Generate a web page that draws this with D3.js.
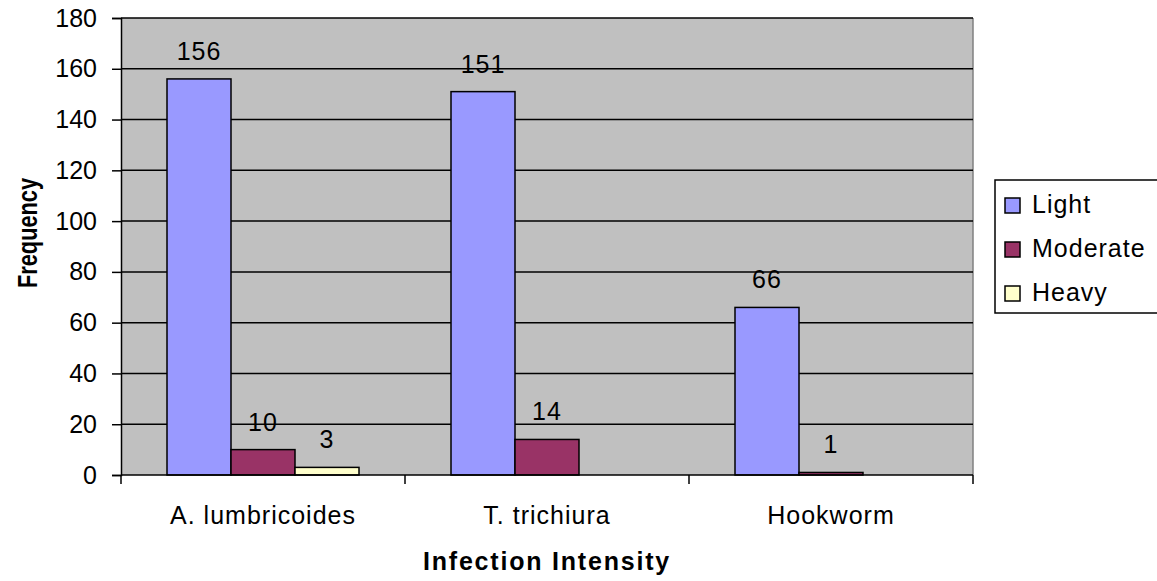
<!DOCTYPE html>
<html>
<head>
<meta charset="utf-8">
<script src="https://cdn.jsdelivr.net/npm/d3@7"></script>
<style>
  body { margin: 0; background: #fff; }
  text { font-family: "Liberation Sans", Arial, sans-serif; }
</style>
</head>
<body>
<div id="chart"></div>
<script>
// data
const categories = ["A. lumbricoides", "T. trichiura", "Hookworm"];
const series = ["Light", "Moderate", "Heavy"];
const light = [156, 151, 66];
const moderate = [10, 14, 1];
const heavy = [3, null, null];
const yTicks = [0, 20, 40, 60, 80, 100, 120, 140, 160, 180];

const colors = { Light: "#9999ff", Moderate: "#993366", Heavy: "#ffffcc" };
const values = { Light: light, Moderate: moderate, Heavy: heavy };

const W = 1157, H = 581;
const plot = { left: 121, right: 973, top: 18, bottom: 475 };
const fs = 25;

const svg = d3.select("#chart").append("svg")
    .attr("width", W)
    .attr("height", H);

const x0 = d3.scaleBand()
    .domain(categories)
    .range([plot.left, plot.right]);

// group of 3 bars sits in the middle of each band
const x1 = d3.scaleBand()
    .domain(series)
    .range([46, x0.bandwidth() - 46]);

const y = d3.scaleLinear()
    .domain([0, 180])
    .range([plot.bottom, plot.top]);

// plot background
svg.append("rect")
    .attr("x", plot.left)
    .attr("y", plot.top)
    .attr("width", plot.right - plot.left)
    .attr("height", plot.bottom - plot.top)
    .attr("fill", "#c0c0c0");

// right border
svg.append("line")
    .attr("x1", plot.right).attr("x2", plot.right)
    .attr("y1", plot.top).attr("y2", plot.bottom)
    .attr("stroke", "#808080")
    .attr("stroke-width", 1.5);

// gridlines
svg.append("g").selectAll("line")
    .data(yTicks.filter(d => d > 0))
    .enter().append("line")
      .attr("x1", plot.left).attr("x2", plot.right)
      .attr("y1", d => y(d)).attr("y2", d => y(d))
      .attr("stroke", "#000")
      .attr("stroke-width", 1.5);

// y axis
const yAxis = svg.append("g")
    .attr("transform", `translate(${plot.left},0)`)
    .call(d3.axisLeft(y).tickValues(yTicks).tickSize(9).tickPadding(15));
yAxis.select(".domain").attr("stroke", "#000").attr("stroke-width", 1.5);
yAxis.selectAll(".tick line").attr("stroke", "#000").attr("stroke-width", 1.5);
yAxis.selectAll(".tick text")
    .attr("font-size", fs)
    .attr("fill", "#000")
    .style("font-family", "Liberation Sans, Arial, sans-serif");

// bars
const groups = svg.append("g").selectAll("g")
    .data(categories)
    .enter().append("g")
      .attr("transform", d => `translate(${x0(d)},0)`);

const cells = (c, i) => series.map(s => ({ s: s, v: values[s][i] })).filter(d => d.v != null);

groups.selectAll("rect")
    .data(cells)
    .enter().append("rect")
      .attr("x", d => x1(d.s))
      .attr("y", d => y(d.v))
      .attr("width", x1.bandwidth())
      .attr("height", d => y(0) - y(d.v))
      .attr("fill", d => colors[d.s])
      .attr("stroke", "#000")
      .attr("stroke-width", 1.5);

groups.selectAll("text")
    .data(cells)
    .enter().append("text")
      .attr("x", d => x1(d.s) + x1.bandwidth() / 2)
      .attr("y", d => y(d.v) - 19)
      .attr("text-anchor", "middle")
      .attr("font-size", fs)
      .attr("letter-spacing", 1)
      .attr("fill", "#000")
      .text(d => d.v);

// x axis
const xAxis = svg.append("g")
    .attr("transform", `translate(0,${plot.bottom})`);
xAxis.append("line")
    .attr("x1", plot.left).attr("x2", plot.right)
    .attr("stroke", "#000").attr("stroke-width", 1.5);
xAxis.selectAll("line.tk")
    .data(categories.map(c => x0(c)).concat([plot.right]))
    .enter().append("line")
      .attr("class", "tk")
      .attr("x1", d => d).attr("x2", d => d)
      .attr("y1", 0).attr("y2", 9)
      .attr("stroke", "#000").attr("stroke-width", 1.5);
xAxis.selectAll("text")
    .data(categories)
    .enter().append("text")
      .attr("x", d => x0(d) + x0.bandwidth() / 2)
      .attr("y", 49)
      .attr("text-anchor", "middle")
      .attr("font-size", fs)
      .attr("letter-spacing", 1)
      .attr("fill", "#000")
      .text(d => d);

// axis titles
svg.append("text")
    .attr("x", (plot.left + plot.right) / 2)
    .attr("y", 570)
    .attr("text-anchor", "middle")
    .attr("font-size", fs)
    .attr("font-weight", "bold")
    .attr("letter-spacing", 1.8)
    .text("Infection Intensity");

svg.append("text")
    .attr("transform", "translate(37,233) rotate(-90)")
    .attr("text-anchor", "middle")
    .attr("font-size", 27)
    .attr("font-weight", "bold")
    .attr("textLength", 110)
    .attr("lengthAdjust", "spacingAndGlyphs")
    .text("Frequency");

// legend
const legend = svg.append("g").attr("transform", "translate(995,180)");
legend.append("rect")
    .attr("width", 185)
    .attr("height", 133)
    .attr("fill", "#fff")
    .attr("stroke", "#000")
    .attr("stroke-width", 1.5);

const item = legend.selectAll("g")
    .data(series)
    .enter().append("g")
      .attr("transform", (d, i) => `translate(10,${25 + i * 44})`);
item.append("rect")
    .attr("x", 0).attr("y", -7)
    .attr("width", 15).attr("height", 15)
    .attr("fill", d => colors[d])
    .attr("stroke", "#000")
    .attr("stroke-width", 1.5);
item.append("text")
    .attr("x", 27)
    .attr("y", 8)
    .attr("font-size", fs)
    .attr("letter-spacing", 1)
    .attr("fill", "#000")
    .text(d => d);
</script>
</body>
</html>
